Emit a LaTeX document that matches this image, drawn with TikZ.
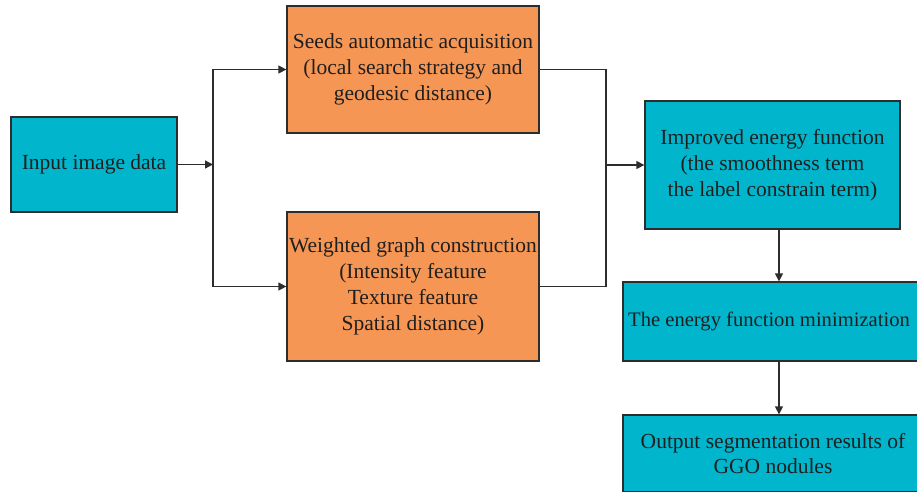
\documentclass[tikz,border=0pt]{standalone}
\usepackage{fontspec}
\setmainfont{Liberation Serif}
\usetikzlibrary{arrows.meta}
\definecolor{boxteal}{RGB}{0,181,204}
\definecolor{boxorange}{RGB}{246,150,84}
\definecolor{edgegray}{RGB}{45,45,45}
\tikzset{
  stage/.style={draw=edgegray, line width=1.3pt, align=center, inner sep=0pt,
    text=black!88, font=\fontsize{21.5}{25.8}\selectfont},
  tealbox/.style={stage, fill=boxteal},
  orangebox/.style={stage, fill=boxorange},
  link/.style={draw=edgegray, line width=1.3pt, -{Triangle[length=8pt,width=8pt]}},
  wire/.style={draw=edgegray, line width=1.3pt}
}
\begin{document}
\begin{tikzpicture}[x=1pt,y=-1pt]
\pgfmathsetmacro{\xsplit}{213}
\pgfmathsetmacro{\xmerge}{606}
\pgfmathsetmacro{\xdown}{779}
\useasboundingbox (0,0) rectangle (917,491);
  % stages of the segmentation pipeline
  \node[tealbox, minimum width=166pt, minimum height=95pt] (input) at (94,164.5) {Input image data};
  \node[orangebox, minimum width=252pt, minimum height=127pt] (seeds) at (413,69.5)
    {Seeds automatic acquisition\\(local search strategy and\\geodesic distance)};
  \node[orangebox, minimum width=252pt, minimum height=149pt] (graph) at (413,286.5)
    {Weighted graph construction\\(Intensity feature\\Texture feature\\Spatial distance)};
  \node[tealbox, minimum width=255pt, minimum height=128pt] (energy) at (772.5,165)
    {Improved energy function\\(the smoothness term\\the label constrain term)};
  \node[tealbox, minimum width=300pt, minimum height=79pt] (minim) at (773,321.5) {};
  \node[font=\fontsize{20.6}{25.8}\selectfont, text=black!88, inner sep=0pt] (minimtext) at (769,321.5)
    {The energy function minimization};
  \node[tealbox, minimum width=300pt, minimum height=77pt] (output) at (773,453.5)
    {Output segmentation results of\\GGO nodules};
  % split and merge
  \coordinate (split) at (\xsplit,164.5);
  \coordinate (merge) at (\xmerge,165);
  \draw[link] (input.east) -- (split);
  \draw[link] (split) |- (seeds.west);
  \draw[link] (split) |- (graph.west);
  \draw[wire] (seeds.east) -| (merge);
  \draw[wire] (graph.east) -| (merge);
  \draw[link] (merge) -- (energy.west);
  % downward chain
  \draw[link] (energy.south -| \xdown,0) -- (minim.north -| \xdown,0);
  \draw[link] (minim.south -| \xdown,0) -- (output.north -| \xdown,0);
\end{tikzpicture}
\end{document}
